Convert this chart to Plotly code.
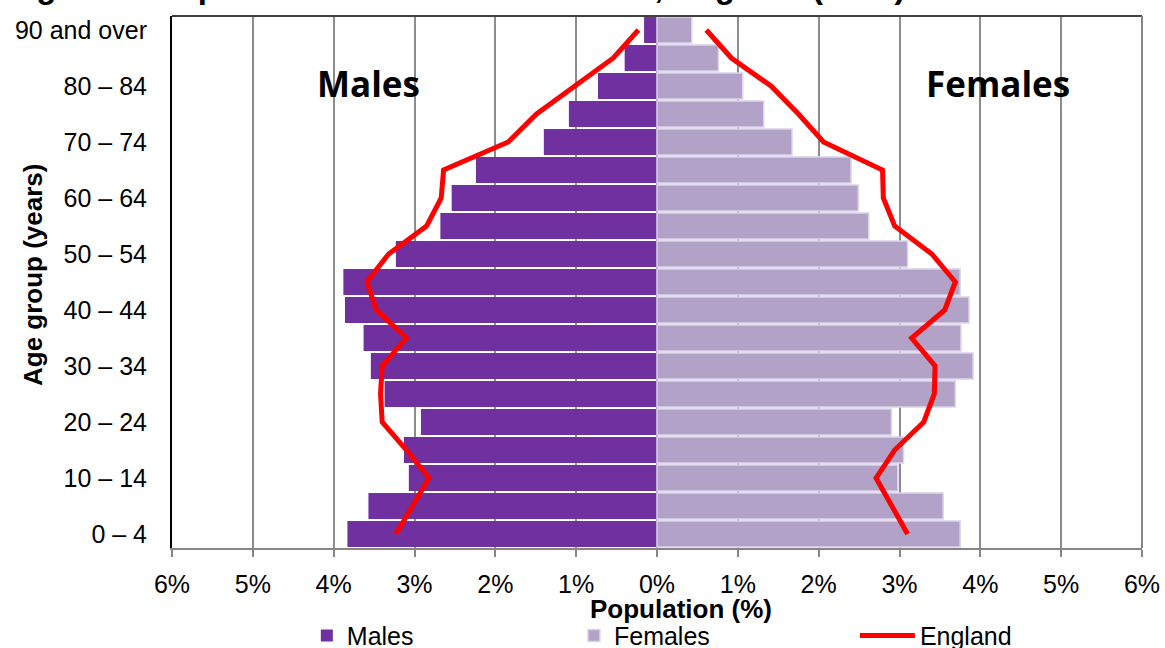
import plotly.graph_objects as go

ages = ["0 – 4", "5 – 9", "10 – 14", "15 – 19", "20 – 24", "25 – 29", "30 – 34",
        "35 – 39", "40 – 44", "45 – 49", "50 – 54", "55 – 59", "60 – 64", "65 – 69",
        "70 – 74", "75 – 79", "80 – 84", "85 – 89", "90 and over"]

males = [3.83, 3.57, 3.07, 3.13, 2.92, 3.37, 3.54, 3.63, 3.86, 3.88,
         3.23, 2.68, 2.54, 2.24, 1.40, 1.09, 0.73, 0.40, 0.16]
females = [3.75, 3.54, 2.98, 3.05, 2.90, 3.69, 3.91, 3.76, 3.86, 3.75,
           3.10, 2.62, 2.49, 2.40, 1.67, 1.32, 1.06, 0.76, 0.43]
england_males = [3.23, 3.03, 2.82, 3.10, 3.40, 3.42, 3.40, 3.10, 3.47, 3.59,
                 3.32, 2.85, 2.67, 2.64, 1.84, 1.49, 1.01, 0.54, 0.23]
england_females = [3.10, 2.90, 2.71, 2.94, 3.30, 3.43, 3.44, 3.15, 3.56, 3.69,
                   3.40, 2.94, 2.80, 2.79, 2.06, 1.75, 1.41, 0.92, 0.61]

x_ticks = [-6, -5, -4, -3, -2, -1, 0, 1, 2, 3, 4, 5, 6]
x_tick_labels = ["6%", "5%", "4%", "3%", "2%", "1%", "0%", "1%", "2%", "3%", "4%", "5%", "6%"]
y_tick_labels = ages[::2]

FONT = "Liberation Sans, Arial, sans-serif"
TICK_SIZE = 25
TITLE_SIZE = 26

fig = go.Figure()
fig.add_trace(go.Bar(
    y=ages, x=[-v for v in males], orientation="h", name="Males",
    marker=dict(color="#7030A0", line=dict(width=0)),
    customdata=males, hovertemplate="%{y}: %{customdata}%<extra>Males</extra>",
    legend="legend"))
fig.add_trace(go.Bar(
    y=ages, x=females, orientation="h", name="Females",
    marker=dict(color="#B3A2C7", line=dict(color="#DDD4EA", width=1.5)),
    hovertemplate="%{y}: %{x}%<extra>Females</extra>",
    legend="legend2"))
fig.add_trace(go.Scatter(
    y=ages, x=[-v for v in england_males], mode="lines", name="England",
    line=dict(color="#FF0000", width=5), legendgroup="eng", showlegend=True,
    customdata=england_males, hovertemplate="%{y}: %{customdata}%<extra>England</extra>",
    legend="legend3"))
fig.add_trace(go.Scatter(
    y=ages, x=england_females, mode="lines", name="England",
    line=dict(color="#FF0000", width=5), legendgroup="eng", showlegend=False,
    hovertemplate="%{y}: %{x}%<extra>England</extra>",
    legend="legend3"))

leg_common = dict(orientation="h", yanchor="middle", y=-0.165, xanchor="left",
                  font=dict(family=FONT, size=TICK_SIZE, color="black"),
                  bgcolor="rgba(0,0,0,0)", borderwidth=0)

fig.update_layout(
    width=1165, height=648,
    margin=dict(l=172, r=23, t=16, b=100, autoexpand=False),
    paper_bgcolor="white", plot_bgcolor="white",
    showlegend=True,
    barmode="overlay", bargap=0.07,
    font=dict(family=FONT, size=TICK_SIZE, color="black"),
    legend=dict(x=0.139, **leg_common),
    legend2=dict(x=0.4144, **leg_common),
    legend3=dict(x=0.704, itemwidth=55, **leg_common),
    xaxis=dict(
        range=[-6, 6], tickvals=x_ticks, ticktext=x_tick_labels,
        showgrid=True, gridcolor="#8C8C8C", gridwidth=1.5,
        zeroline=False, automargin=False,
        showline=True, linecolor="#868686", linewidth=2,
        ticks="outside", ticklen=7, tickcolor="#868686", tickwidth=1.5,
        ticklabelstandoff=6,
        tickfont=dict(family=FONT, size=TICK_SIZE),
    ),
    yaxis=dict(
        type="category", categoryorder="array", categoryarray=ages,
        range=[-0.5, 18.5], tickvals=y_tick_labels, ticktext=y_tick_labels,
        showgrid=False, zeroline=False, automargin=False,
        showline=True, linecolor="black", linewidth=2,
        ticks="", ticklabelstandoff=18,
        tickfont=dict(family=FONT, size=TICK_SIZE),
    ),
    shapes=[
        dict(type="line", xref="paper", yref="paper", x0=0, x1=1, y0=1, y1=1,
             line=dict(color="#404040", width=2), layer="above"),
        dict(type="line", xref="paper", yref="paper", x0=1, x1=1, y0=0, y1=1,
             line=dict(color="#868686", width=2), layer="above"),
        dict(type="line", xref="x", yref="paper", x0=0, x1=0, y0=0, y1=1,
             line=dict(color="#8C8C8C", width=2), layer="below"),
    ],
    annotations=[
        dict(text="<b>Males</b>", x=-3.575, y=16.1, xref="x", yref="y",
             showarrow=False, font=dict(family="Open Sans, sans-serif", size=35, color="black")),
        dict(text="<b>Females</b>", x=4.22, y=16.1, xref="x", yref="y",
             showarrow=False, font=dict(family="Open Sans, sans-serif", size=35, color="black")),
        dict(text="<b>Population (%)</b>",
             x=(681 - 172) / 970, y=(548 - 609) / 532, xref="paper", yref="paper",
             xanchor="center", yanchor="middle", showarrow=False,
             font=dict(family=FONT, size=TITLE_SIZE, color="black")),
        dict(text="<b>Age group (years)</b>", textangle=-90,
             x=(33 - 172) / 970, y=0.5 - (275 - 282) / 532, xref="paper", yref="paper",
             xanchor="center", yanchor="middle", showarrow=False,
             font=dict(family=FONT, size=TITLE_SIZE, color="black")),
        dict(text="<b>Figure 2: Population structure of the area, England (2011)</b>",
             x=(5 - 172) / 970, y=1 + 9 / 532, xref="paper", yref="paper",
             xanchor="left", yanchor="bottom",
             showarrow=False, font=dict(family=FONT, size=33, color="black")),
    ],
)

fig.write_html("out.html", config={"displayModeBar": False},
               post_script="document.body.style.margin='0';")
